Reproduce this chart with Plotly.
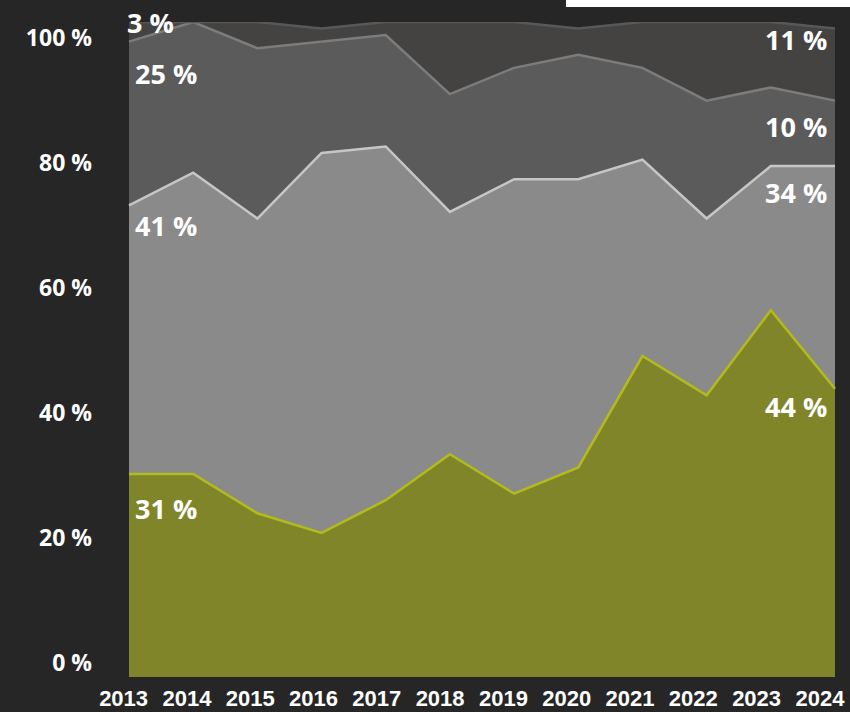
import plotly.graph_objects as go

years = [2013, 2014, 2015, 2016, 2017, 2018, 2019, 2020, 2021, 2022, 2023, 2024]
s1 = [31, 31, 25, 22, 27, 34, 28, 32, 49, 43, 56, 44]
s2 = [41, 46, 45, 58, 54, 37, 48, 44, 30, 27, 22, 34]
s3 = [25, 23, 26, 17, 17, 18, 17, 19, 14, 18, 12, 10]
s4 = [3, 0, 4, 2, 2, 11, 7, 4, 7, 12, 10, 11]
y_ticks = [0, 20, 40, 60, 80, 100]
y_ticktext = ["0 %", "20 %", "40 %", "60 %", "80 %", "100 %"]

BG = "#262626"
series = [
    (s1, "#80852a", "#b3bb1c"),
    (s2, "#8a8a8a", "#c6c6c6"),
    (s3, "#5b5b5b", "#7c7c7c"),
    (s4, "#444342", "#585858"),
]

fig = go.Figure()
for vals, fillc, linec in series:
    fig.add_trace(go.Scatter(
        x=years, y=vals, stackgroup="one", mode="lines",
        line=dict(color=linec, width=2.5), fillcolor=fillc,
        hoverinfo="skip", showlegend=False,
    ))

# invisible trace bound to the label axes
fig.add_trace(go.Scatter(x=[years[0]], y=[0], xaxis="x2", yaxis="y2",
                         mode="markers", marker=dict(opacity=0),
                         hoverinfo="skip", showlegend=False))

ann_font = dict(family="Open Sans", size=27, color="white", weight="bold")
annotations = []
left_pos = [(s1, 25.8, 4), (s2, 69.0, 4), (s3, 92.2, 4), (s4, 100.0, -4)]
for vals, ypos, xs in left_pos:
    annotations.append(dict(x=years[0], y=ypos, xref="x", yref="y",
                            text=f"{vals[0]} %", showarrow=False,
                            xanchor="left", yanchor="middle", xshift=xs,
                            font=ann_font))
right_pos = [(s1, 41.3), (s2, 74.0), (s3, 84.0), (s4, 97.3)]
for vals, ypos in right_pos:
    annotations.append(dict(x=years[-1], y=ypos, xref="x", yref="y",
                            text=f"{vals[-1]} %", showarrow=False,
                            xanchor="right", yanchor="middle", xshift=-6,
                            font=ann_font))

# plot area spans x 100..850 px; data 2013 -> 129 px, 2024 -> 835 px
x_range = [2012.5481, 2024.2338]
x_label_range = [2012.6272, 2024.4755]

fig.update_layout(
    width=850, height=712,
    margin=dict(l=100, r=0, t=22, b=35, autoexpand=False),
    paper_bgcolor=BG, plot_bgcolor=BG,
    showlegend=False,
    xaxis=dict(range=x_range, showgrid=False, zeroline=False, automargin=False,
               showticklabels=False, showline=False, fixedrange=True),
    yaxis=dict(range=[0, 100], showgrid=False, zeroline=False, automargin=False,
               showticklabels=False, showline=False, fixedrange=True),
    xaxis2=dict(overlaying="x", side="bottom", range=x_label_range,
                tickmode="array", tickvals=years, ticktext=[str(y) for y in years],
                showgrid=False, zeroline=False, showline=False, ticks="",
                automargin=False, ticklabelstandoff=6,
                tickfont=dict(family="Liberation Sans", size=22, color="white",
                              weight="bold")),
    yaxis2=dict(overlaying="y", side="left", range=[-2.24, 102.56],
                tickmode="array", tickvals=y_ticks, ticktext=y_ticktext,
                showgrid=False, zeroline=False, showline=False, ticks="",
                automargin=False, ticklabelstandoff=7,
                tickfont=dict(family="Open Sans", size=23, color="white",
                              weight="bold")),
    annotations=annotations,
    shapes=[dict(type="rect", xref="paper", yref="paper",
                 x0=0.6213, x1=1.01, y0=1.0229, y1=1.05,
                 fillcolor="white", line=dict(width=0), layer="above")],
)

fig.write_html(
    "out.html",
    config={"displayModeBar": False},
    post_script="document.body.style.margin='0';"
                "document.body.style.background='#262626';"
                "document.documentElement.style.overflow='hidden';",
)
